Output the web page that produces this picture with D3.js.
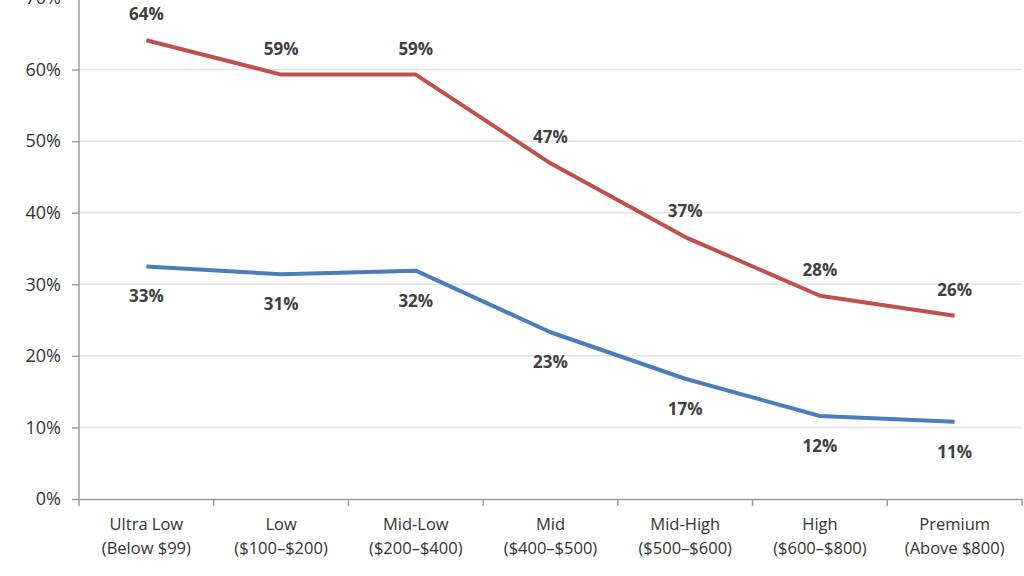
<!DOCTYPE html>
<html><head><meta charset="utf-8">
<script src="https://cdn.jsdelivr.net/npm/d3@7"></script>
<style>body{margin:0;background:#fff}svg{display:block}</style>
</head><body>
<svg id="c" width="1024" height="576"></svg>
<script>
const categories = ["Ultra Low|(Below $99)","Low|($100–$200)","Mid-Low|($200–$400)","Mid|($400–$500)","Mid-High|($500–$600)","High|($600–$800)","Premium|(Above $800)"];
const redValues = [64.1, 59.3, 59.3, 46.9, 36.6, 28.4, 25.6];
const blueValues = [32.5, 31.4, 31.9, 23.3, 16.8, 11.6, 10.8];
const yTicks = [0,10,20,30,40,50,60,70];

const svg = d3.select("#c");
const x = d3.scaleBand().domain(categories).range([79, 1022]).padding(0);
const y = d3.scaleLinear().domain([0,70]).range([499, -2]);
const font = "'Open Sans', sans-serif";
const axisCol = "#a39b94";

// gridlines
svg.append("g").selectAll("line").data(yTicks.filter(d=>d>0)).join("line")
  .attr("x1",79).attr("x2",1022).attr("y1",d=>y(d)).attr("y2",d=>y(d))
  .attr("stroke","#e3e3e3").attr("stroke-width",1.5);

// y axis
const ya = svg.append("g").attr("transform","translate(79,0)")
  .call(d3.axisLeft(y).tickValues(yTicks).tickFormat(d=>d+"%").tickSize(7).tickPadding(11));
ya.select(".domain").attr("stroke",axisCol).attr("stroke-width",1.5).attr("d","M0,-2V499");
ya.selectAll(".tick line").attr("stroke",axisCol).attr("stroke-width",1.5);
ya.selectAll(".tick text").attr("font-family",font).attr("font-size",18).attr("fill","#333");

// x axis
const xa = svg.append("g").attr("transform","translate(0,499)")
  .call(d3.axisBottom(x).tickSize(0).tickFormat(""));
xa.select(".domain").attr("stroke",axisCol).attr("stroke-width",1.5);
const bounds = categories.map(c=>x(c)).concat([x.range()[1]]);
xa.selectAll(".bt").data(bounds).join("line").attr("class","bt")
  .attr("x1",d=>d).attr("x2",d=>d).attr("y1",0).attr("y2",7)
  .attr("stroke",axisCol).attr("stroke-width",1.5);
xa.selectAll(".tick").each(function(d){
  const parts = d.split("|");
  const t = d3.select(this).append("text").attr("font-family",font).attr("font-size",16.5)
    .attr("fill","#333").attr("text-anchor","middle");
  parts.forEach((p,i)=>t.append("tspan").attr("x",0).attr("y",31+i*24).text(p));
});

const cx = c => x(c) + x.bandwidth()/2;
const line = vals => d3.line().x((d,i)=>cx(categories[i])).y(d=>y(d))(vals);

svg.append("path").attr("d",line(redValues)).attr("fill","none")
  .attr("stroke","#c0504d").attr("stroke-width",4).attr("stroke-linejoin","round");
svg.append("path").attr("d",line(blueValues)).attr("fill","none")
  .attr("stroke","#4a7ebb").attr("stroke-width",4).attr("stroke-linejoin","round");

svg.append("g").selectAll("text").data(redValues).join("text")
  .attr("x",(d,i)=>cx(categories[i])).attr("y",d=>y(d)-20)
  .attr("text-anchor","middle").attr("font-family",font).attr("font-weight","bold")
  .attr("font-size",17).attr("fill","#404040").text(d=>Math.round(d)+"%");
svg.append("g").selectAll("text").data(blueValues).join("text")
  .attr("x",(d,i)=>cx(categories[i])).attr("y",d=>y(d)+36)
  .attr("text-anchor","middle").attr("font-family",font).attr("font-weight","bold")
  .attr("font-size",17).attr("fill","#404040").text(d=>Math.round(d)+"%");
</script>
</body></html>
